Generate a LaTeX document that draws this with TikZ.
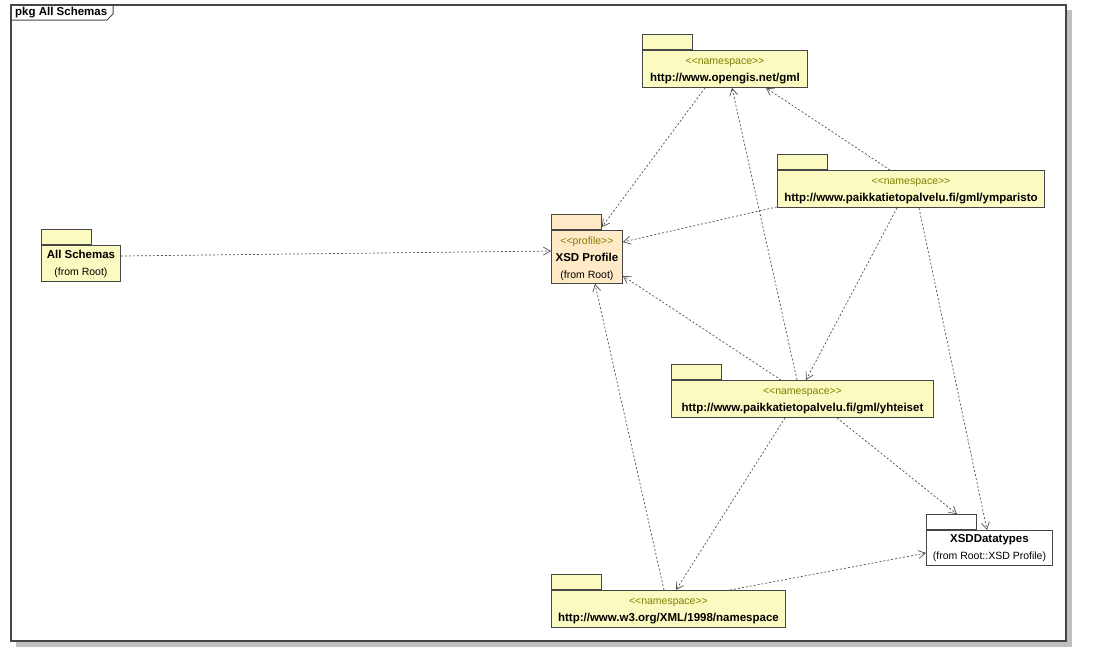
\documentclass[tikz,border=0pt]{standalone}
\usepackage{fontspec}
\setmainfont{Liberation Sans}
\usetikzlibrary{arrows.meta,calc}

\definecolor{pkgfill}{RGB}{251,250,192}
\definecolor{proffill}{RGB}{255,233,198}
\definecolor{pkgline}{RGB}{70,70,70}
\definecolor{depline}{RGB}{80,80,80}
\definecolor{stereo}{RGB}{128,128,0}
\definecolor{shadowgray}{RGB}{192,192,192}

\newcommand{\stereotype}[1]{\rule{0pt}{11.5pt}{\color{stereo}\textless\kern0pt\textless#1\textgreater\kern0pt\textgreater}}
\newcommand{\pkgtitle}[1]{{\fontsize{11.5}{17}\selectfont\bfseries #1}}

\begin{document}
\begin{tikzpicture}[x=1pt,y=-1pt,
  pkg/.style={draw=pkgline,fill=pkgfill,line width=0.9pt,inner sep=0pt,align=center,anchor=north west,
    font=\fontsize{10.5}{17}\selectfont},
  pkgtab/.style={draw=pkgline,fill=pkgfill,line width=0.9pt,inner sep=0pt,
    minimum width=50pt,minimum height=15pt,anchor=south west},
  dep/.style={draw=depline,line width=0.7pt,dash pattern=on 2pt off 2pt,
    -{Straight Barb[length=7pt,width=8pt]}}]
\useasboundingbox (0,0) rectangle (1093,662);

% frame
\fill[shadowgray] (16,10) rectangle (1072,647);
\draw[pkgline,line width=1.3pt,fill=white] (11,5) rectangle (1066,641);
\draw[pkgline,line width=1pt] (11,20) -- (107,20) -- (113,14) -- (113,5);
\node[anchor=west,inner sep=0pt] (frame_label) at (15,12.5) {\pkgtitle{pkg All Schemas}};

% packages
\node[pkg,minimum width=165pt,minimum height=37pt] (gml) at (642,50)
  {\stereotype{namespace}\\\pkgtitle{http://www.opengis.net/gml}};
\node[pkgtab] (gml_tab) at (gml.north west) {};

\node[pkg,minimum width=267pt,minimum height=37pt] (ymparisto) at (777,170)
  {\stereotype{namespace}\\\pkgtitle{http://www.paikkatietopalvelu.fi/gml/ymparisto}};
\node[pkgtab] (ymparisto_tab) at (ymparisto.north west) {};

\node[pkg,fill=proffill,minimum width=71pt,minimum height=53pt] (XSD_Profile) at (551,230)
  {\stereotype{profile}\\\pkgtitle{XSD Profile}\\(from Root)};
\node[pkgtab,fill=proffill] (XSD_Profile_tab) at (XSD_Profile.north west) {};

\node[pkg,minimum width=79pt,minimum height=36pt] (All_Schemas) at (41,245)
  {\pkgtitle{All Schemas}\\(from Root)};
\node[pkgtab] (All_Schemas_tab) at (All_Schemas.north west) {};

\node[pkg,minimum width=262pt,minimum height=37pt] (yhteiset) at (671,380)
  {\stereotype{namespace}\\\pkgtitle{http://www.paikkatietopalvelu.fi/gml/yhteiset}};
\node[pkgtab] (yhteiset_tab) at (yhteiset.north west) {};

\node[pkg,fill=white,minimum width=126pt,minimum height=35pt] (XSDDatatypes) at (926,530)
  {\pkgtitle{XSDDatatypes}\\(from Root::XSD Profile)};
\node[pkgtab,fill=white] (XSDDatatypes_tab) at (XSDDatatypes.north west) {};

\node[pkg,minimum width=234pt,minimum height=37pt] (w3_namespace) at (551,590)
  {\stereotype{namespace}\\\pkgtitle{http://www.w3.org/XML/1998/namespace}};
\node[pkgtab] (w3_namespace_tab) at (w3_namespace.north west) {};

% dependencies
\draw[dep] ($(All_Schemas.north east)+(0,11)$) -- ($(XSD_Profile.north west)+(0,21)$);
\draw[dep] ($(gml.south west)+(63,0)$) -- ($(XSD_Profile_tab.south east)+(0,-3)$);
\draw[dep] ($(ymparisto.south west)+(0,-1)$) -- ($(XSD_Profile.north east)+(0,12)$);
\draw[dep] ($(yhteiset.north west)+(110,0)$) -- ($(XSD_Profile.south east)+(0,-8)$);
\draw[dep] ($(w3_namespace.north west)+(113,0)$) -- ($(XSD_Profile.south west)+(44,0)$);
\draw[dep] ($(ymparisto.north west)+(113,0)$) -- ($(gml.south west)+(124,0)$);
\draw[dep] ($(yhteiset.north west)+(126,0)$) -- ($(gml.south west)+(90,0)$);
\draw[dep] ($(ymparisto.south west)+(120,0)$) -- ($(yhteiset.north west)+(135,0)$);
\draw[dep] ($(ymparisto.south west)+(142,0)$) -- ($(XSDDatatypes.north west)+(61,0)$);
\draw[dep] ($(yhteiset.south west)+(166,0)$) -- ($(XSDDatatypes_tab.north west)+(31,0)$);
\draw[dep] ($(yhteiset.south west)+(114,0)$) -- ($(w3_namespace.north west)+(125,0)$);
\draw[dep] ($(w3_namespace.north west)+(179,0)$) -- ($(XSDDatatypes.north west)+(0,23)$);
\end{tikzpicture}
\end{document}
